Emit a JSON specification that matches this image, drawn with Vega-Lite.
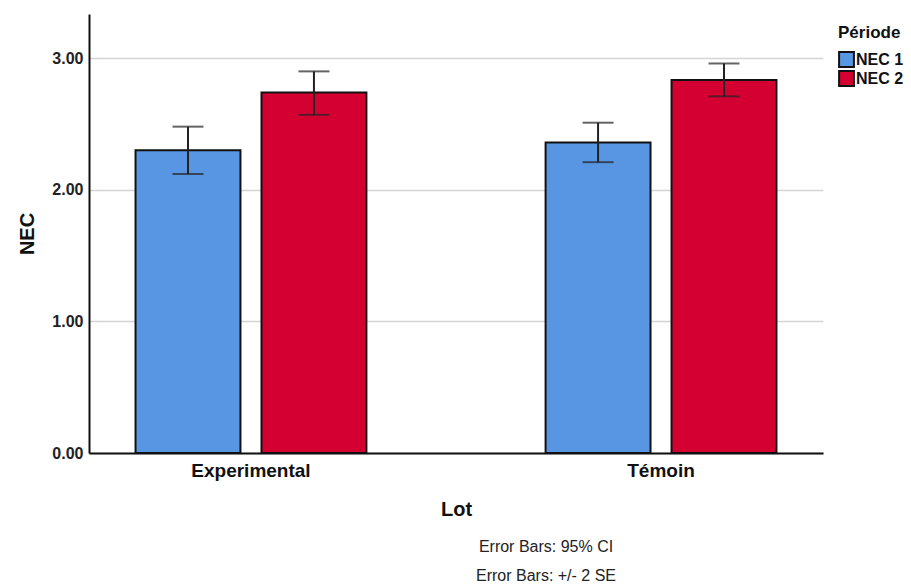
{
  "$schema": "https://vega.github.io/schema/vega-lite/v6.json",
  "width": 734,
  "height": 439,
  "autosize": {"type": "none"},
  "padding": {"left": 89, "top": 14, "right": 88, "bottom": 132},
  "background": "white",
  "config": {
    "font": "Liberation Sans",
    "view": {"stroke": null},
    "axis": {"labelFont": "Liberation Sans", "titleFont": "Liberation Sans"}
  },
  "title": {
    "text": "Error Bars: 95% CI",
    "subtitle": "Error Bars: +/- 2 SE",
    "orient": "bottom",
    "anchor": "middle",
    "dx": 90,
    "offset": 20,
    "fontSize": 16,
    "fontWeight": "normal",
    "color": "#222222",
    "subtitleFontSize": 16,
    "subtitleColor": "#222222",
    "subtitlePadding": 13,
    "font": "Liberation Sans",
    "subtitleFont": "Liberation Sans"
  },
  "data": {
    "values": [
      {"Lot": "Experimental", "Periode": "NEC 1", "mean": 2.30, "lo": 2.12, "hi": 2.48},
      {"Lot": "Experimental", "Periode": "NEC 2", "mean": 2.74, "lo": 2.57, "hi": 2.90},
      {"Lot": "Témoin", "Periode": "NEC 1", "mean": 2.36, "lo": 2.21, "hi": 2.51},
      {"Lot": "Témoin", "Periode": "NEC 2", "mean": 2.835, "lo": 2.71, "hi": 2.96}
    ]
  },
  "encoding": {
    "x": {
      "field": "Lot",
      "type": "nominal",
      "scale": {"paddingInner": 0.437, "paddingOuter": 0.1135},
      "axis": {
        "title": "Lot",
        "labelAngle": 0,
        "labelFontSize": 19,
        "labelFontWeight": "bold",
        "labelColor": "#111111",
        "labelPadding": 8,
        "ticks": false,
        "domainColor": "#111111",
        "domainWidth": 2,
        "titleFontSize": 20,
        "titleFontWeight": "bold",
        "titleColor": "#111111",
        "titlePadding": 19,
        "grid": false
      }
    },
    "xOffset": {
      "field": "Periode",
      "type": "nominal",
      "scale": {"paddingInner": 0.167, "paddingOuter": 0}
    }
  },
  "layer": [
    {
      "mark": {"type": "bar", "stroke": "#111111", "strokeWidth": 2},
      "encoding": {
        "y": {
          "field": "mean",
          "type": "quantitative",
          "scale": {"domain": [0, 3.336], "nice": false, "zero": true},
          "axis": {
            "title": "NEC",
            "values": [0, 1, 2, 3],
            "format": ".2f",
            "labelFontSize": 16,
            "labelFontWeight": "bold",
            "labelColor": "#222222",
            "labelPadding": 6,
            "ticks": false,
            "domainColor": "#111111",
            "domainWidth": 2,
            "grid": true,
            "gridColor": "#d4d4d4",
            "gridWidth": 1.5,
            "titleFontSize": 20,
            "titleFontWeight": "bold",
            "titleColor": "#111111",
            "titlePadding": 14
          }
        },
        "color": {
          "field": "Periode",
          "type": "nominal",
          "scale": {"domain": ["NEC 1", "NEC 2"], "range": ["#5896e3", "#d50032"]},
          "legend": {
            "title": "Période",
            "orient": "none",
            "legendX": 749,
            "legendY": 11,
            "titleFontSize": 17,
            "titleFontWeight": "bold",
            "titleColor": "#111111",
            "titlePadding": 8,
            "labelFontSize": 16,
            "labelFontWeight": "bold",
            "labelColor": "#111111",
            "labelOffset": 1,
            "symbolType": "square",
            "symbolSize": 220,
            "symbolStrokeColor": "#111111",
            "symbolStrokeWidth": 2,
            "symbolOpacity": 1,
            "rowPadding": 0,
            "clipHeight": 19
          }
        }
      }
    },
    {
      "mark": {"type": "rule", "color": "#222222", "strokeWidth": 2},
      "encoding": {
        "y": {"field": "lo", "type": "quantitative"},
        "y2": {"field": "hi"}
      }
    },
    {
      "mark": {"type": "tick", "color": "#222222", "size": 31, "thickness": 2, "orient": "horizontal"},
      "encoding": {
        "y": {"field": "hi", "type": "quantitative"}
      }
    },
    {
      "mark": {"type": "tick", "color": "#222222", "size": 31, "thickness": 2, "orient": "horizontal"},
      "encoding": {
        "y": {"field": "lo", "type": "quantitative"}
      }
    }
  ]
}
